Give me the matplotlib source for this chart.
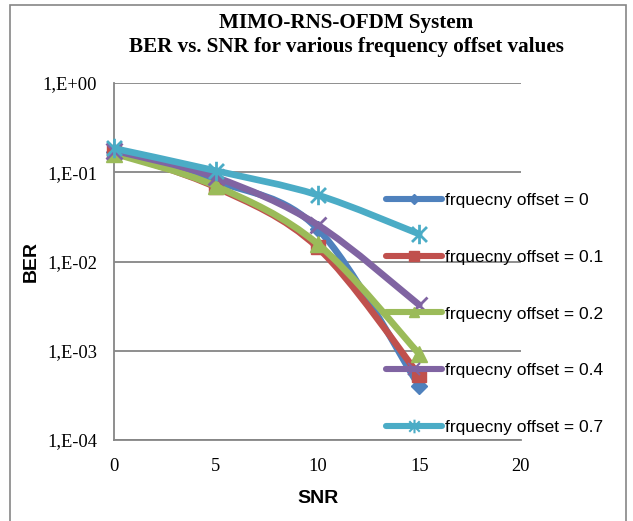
import numpy as np
from matplotlib import pyplot as plt
from matplotlib.path import Path
from matplotlib.patches import PathPatch, Rectangle
from matplotlib.lines import Line2D

snr = [0, 5, 10, 15]
ber_0 = [0.170, 0.080, 0.0233, 0.00040]
ber_01 = [0.170, 0.068, 0.0144, 0.00053]
ber_02 = [0.162, 0.070, 0.0158, 0.00092]
ber_04 = [0.175, 0.088, 0.0258, 0.00326]
ber_07 = [0.185, 0.104, 0.0557, 0.0203]
labels = ['frquecny offset = 0', 'frquecny offset = 0.1', 'frquecny offset = 0.2',
          'frquecny offset = 0.4', 'frquecny offset = 0.7']

colors = ['#4F81BD', '#C0504D', '#9BBB59', '#8064A2', '#4BACC6']
star = Path([(-1, -1), (1, 1), (-1, 1), (1, -1), (0, -1.3), (0, 1.3)],
            [Path.MOVETO, Path.LINETO, Path.MOVETO, Path.LINETO, Path.MOVETO, Path.LINETO])
markers = ['D', 's', '^', 'x', star]
msizes = [8, 10, 11, 12, 14]

serif = 'Liberation Serif'
sans = 'Liberation Sans'


def smooth_path(x, y):
    # excel-like smoothed line: catmull-rom bezier in (x, log y) space
    x = np.asarray(x, float)
    ly = np.log10(y)
    pts = np.column_stack([x, ly])
    n = len(pts)
    verts = [pts[0]]
    codes = [Path.MOVETO]
    for i in range(n - 1):
        p0 = pts[max(i - 1, 0)]
        p1 = pts[i]
        p2 = pts[i + 1]
        p3 = pts[min(i + 2, n - 1)]
        c1 = p1 + (p2 - p0) / 6.0
        c2 = p2 - (p3 - p1) / 6.0
        verts += [c1, c2, p2]
        codes += [Path.CURVE4] * 3
    verts = np.array(verts)
    verts[:, 1] = 10 ** verts[:, 1]
    return Path(verts, codes)


fig = plt.figure(figsize=(6.33, 5.21), dpi=100)
ax = fig.add_axes([114 / 633, 81 / 521, (521 - 114) / 633, (440 - 83) / 521])
ax.set_yscale('log')
ax.set_xlim(0, 20)
ax.set_ylim(1e-4, 1)

series = [ber_0, ber_01, ber_02, ber_04, ber_07]
handles = []
for i, ys in enumerate(series):
    ax.add_patch(PathPatch(smooth_path(snr, ys), fill=False, edgecolor=colors[i],
                           lw=4.8, capstyle='round', joinstyle='round', zorder=3 + i))
    ax.plot(snr, ys, linestyle='none', marker=markers[i], ms=msizes[i],
            color=colors[i], mec=colors[i], mew=2 if i >= 3 else 1, zorder=3 + i, clip_on=False)
    handles.append(Line2D([], [], color=colors[i], lw=4.4, solid_capstyle='round',
                          marker=markers[i], ms=msizes[i] * 0.7, mec=colors[i],
                          mew=1.5 if i >= 3 else 1))

ax.set_xticks([0, 5, 10, 15, 20])
ax.set_yticks([1, 1e-1, 1e-2, 1e-3, 1e-4])
ax.set_yticklabels(['1,E+00', '1,E-01', '1,E-02', '1,E-03', '1,E-04'])
ax.minorticks_off()
ax.tick_params(length=0, labelsize=13.3)
for t in ax.get_xticklabels() + ax.get_yticklabels():
    t.set_family(serif)
ax.tick_params(axis='y', pad=12)
ax.tick_params(axis='x', pad=13)
ax.grid(axis='y', color='#868686', lw=1.3)
ax.set_axisbelow(True)
for s in ['top', 'right']:
    ax.spines[s].set_visible(False)
for s in ['left', 'bottom']:
    ax.spines[s].set_color('#868686')
    ax.spines[s].set_linewidth(1.3)

ax.set_xlabel('SNR', family=sans, fontweight='bold', fontsize=14, labelpad=11)
ax.set_ylabel('BER', family=sans, fontweight='bold', fontsize=14, labelpad=2)

fig.text(346 / 633, 1 - 23 / 521, 'MIMO-RNS-OFDM System', family=serif, fontweight='bold',
         fontsize=15.2, ha='center', va='center')
fig.text(346 / 633, 1 - 47 / 521, 'BER vs. SNR for various frequency offset values', family=serif,
         fontweight='bold', fontsize=15.2, ha='center', va='center')

leg = fig.legend(handles, labels, loc='center left', bbox_to_anchor=(386 / 633, 1 - 314 / 521),
                 frameon=False, prop={'family': sans, 'size': 12.5}, handlelength=3.2,
                 handletextpad=0.17, labelspacing=2.39, borderpad=0, borderaxespad=0)

fig.add_artist(Rectangle((10 / 633, -0.01), (626 - 10) / 633, 1 - 5 / 521 + 0.01,
                         transform=fig.transFigure, fill=False, edgecolor='#868686', lw=1.2))

fig.savefig('out.png', dpi=100)
